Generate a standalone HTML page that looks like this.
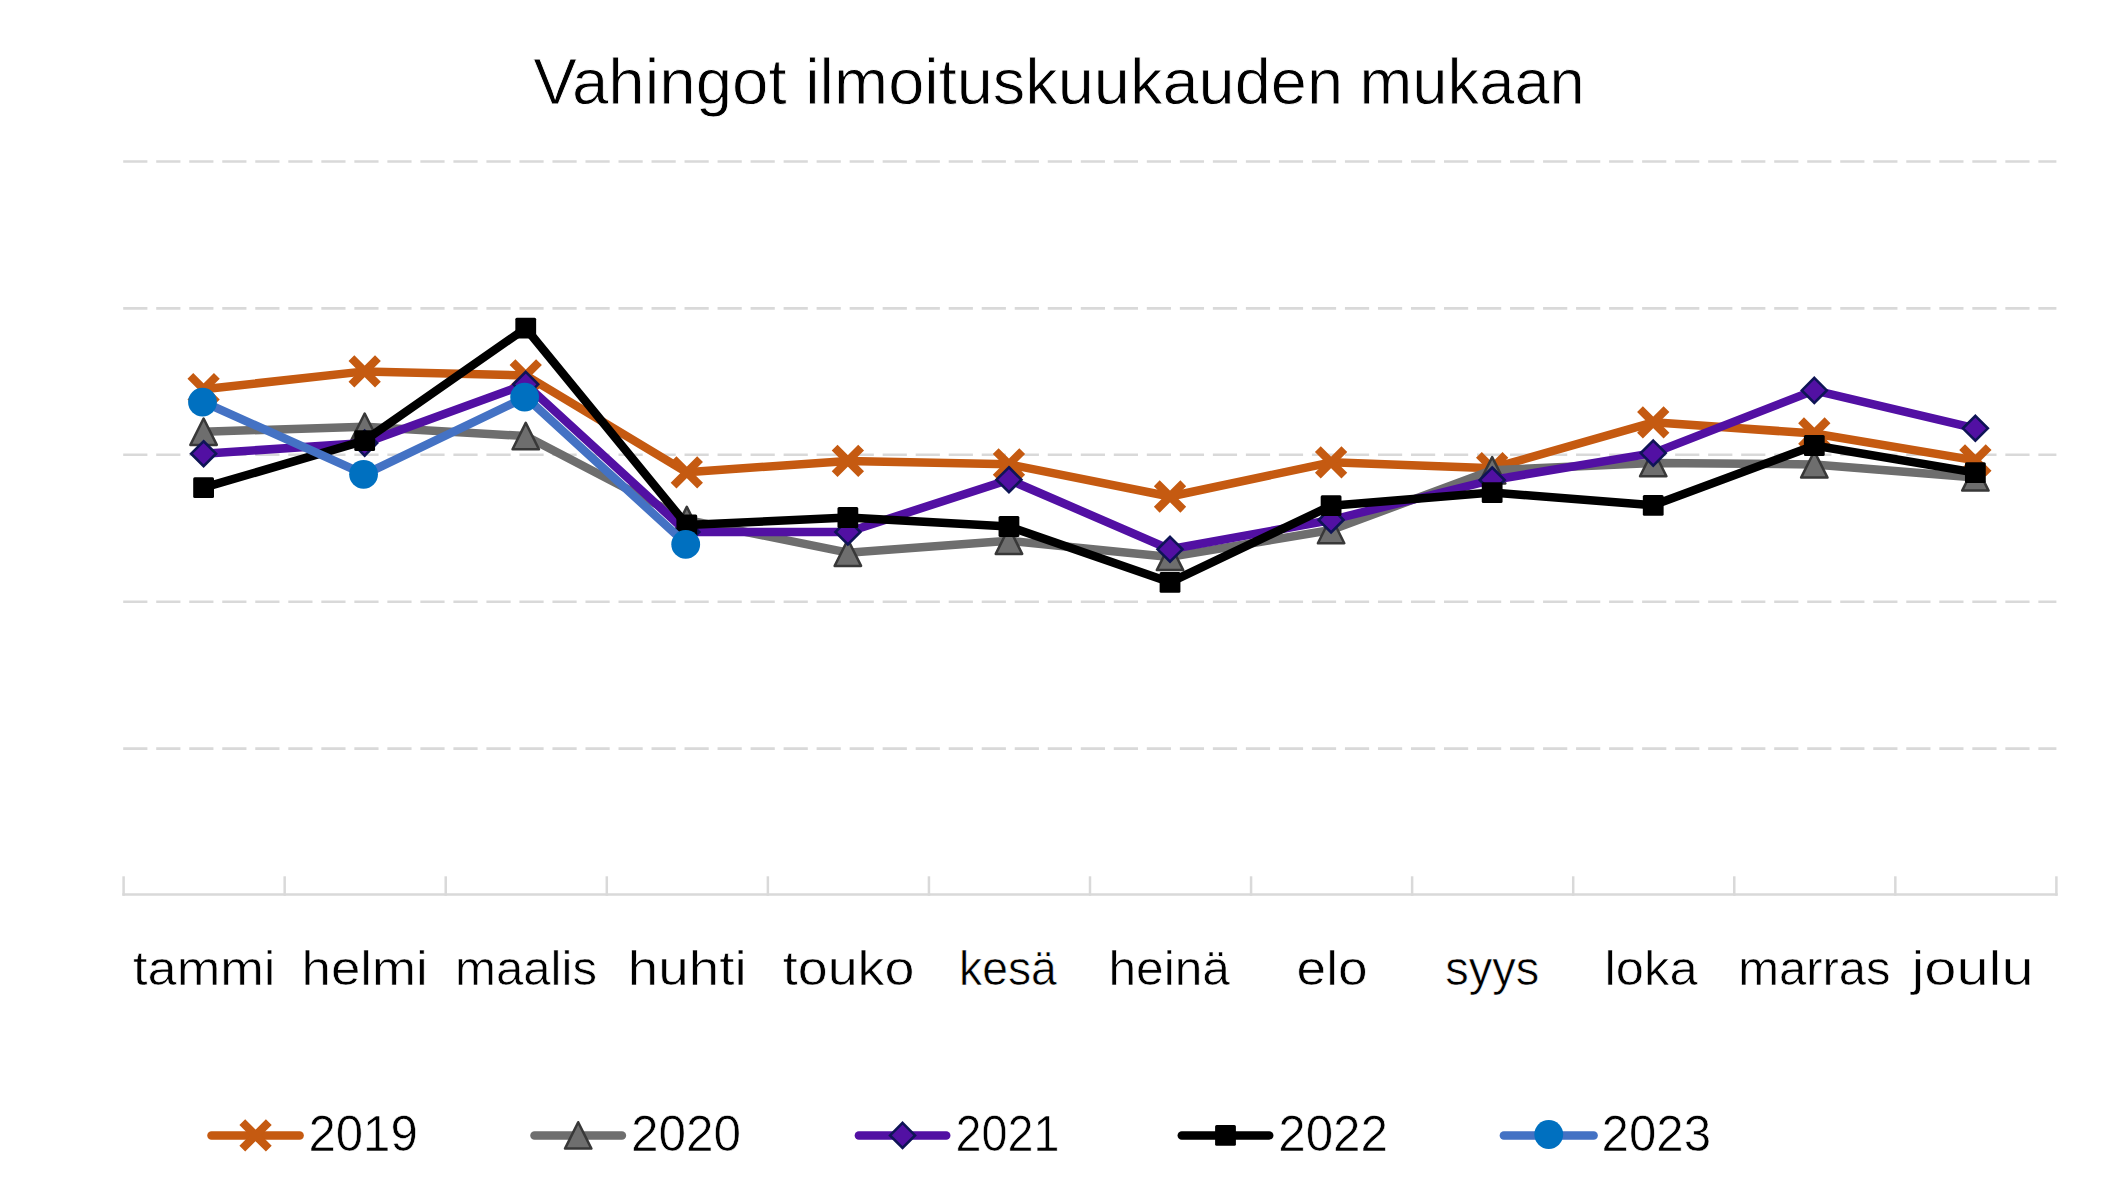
<!DOCTYPE html><html><head><meta charset="utf-8"><style>html,body{margin:0;padding:0;background:#fff;width:2118px;height:1193px;overflow:hidden}svg{display:block}text{font-family:"Liberation Sans",sans-serif;fill:#000}</style></head><body>
<svg width="2118" height="1193" viewBox="0 0 2118 1193">
<rect width="2118" height="1193" fill="#fff"/>
<text x="533.20" y="103.50" font-size="64" textLength="253.40" lengthAdjust="spacingAndGlyphs" stroke="#fff" stroke-width="0.8">Vahingot</text>
<text x="805.20" y="103.50" font-size="64" textLength="537.80" lengthAdjust="spacingAndGlyphs" stroke="#fff" stroke-width="0.8">ilmoituskuukauden</text>
<text x="1359.60" y="103.50" font-size="64" textLength="225.20" lengthAdjust="spacingAndGlyphs" stroke="#fff" stroke-width="0.8">mukaan</text>
<line x1="123.19999999999999" y1="161.5" x2="2056.4" y2="161.5" stroke="#D9D9D9" stroke-width="2.6" stroke-dasharray="24.2 8.82"/>
<line x1="123.19999999999999" y1="308.4" x2="2056.4" y2="308.4" stroke="#D9D9D9" stroke-width="2.6" stroke-dasharray="24.2 8.82"/>
<line x1="123.19999999999999" y1="454.7" x2="2056.4" y2="454.7" stroke="#D9D9D9" stroke-width="2.6" stroke-dasharray="24.2 8.82"/>
<line x1="123.19999999999999" y1="601.7" x2="2056.4" y2="601.7" stroke="#D9D9D9" stroke-width="2.6" stroke-dasharray="24.2 8.82"/>
<line x1="123.19999999999999" y1="748.6" x2="2056.4" y2="748.6" stroke="#D9D9D9" stroke-width="2.6" stroke-dasharray="24.2 8.82"/>
<line x1="122.35" y1="894.5" x2="2057.65" y2="894.5" stroke="#D9D9D9" stroke-width="2.5"/>
<line x1="123.60" y1="876.3" x2="123.60" y2="895.7" stroke="#D9D9D9" stroke-width="2.5"/>
<line x1="284.67" y1="876.3" x2="284.67" y2="895.7" stroke="#D9D9D9" stroke-width="2.5"/>
<line x1="445.73" y1="876.3" x2="445.73" y2="895.7" stroke="#D9D9D9" stroke-width="2.5"/>
<line x1="606.80" y1="876.3" x2="606.80" y2="895.7" stroke="#D9D9D9" stroke-width="2.5"/>
<line x1="767.87" y1="876.3" x2="767.87" y2="895.7" stroke="#D9D9D9" stroke-width="2.5"/>
<line x1="928.93" y1="876.3" x2="928.93" y2="895.7" stroke="#D9D9D9" stroke-width="2.5"/>
<line x1="1090.00" y1="876.3" x2="1090.00" y2="895.7" stroke="#D9D9D9" stroke-width="2.5"/>
<line x1="1251.07" y1="876.3" x2="1251.07" y2="895.7" stroke="#D9D9D9" stroke-width="2.5"/>
<line x1="1412.13" y1="876.3" x2="1412.13" y2="895.7" stroke="#D9D9D9" stroke-width="2.5"/>
<line x1="1573.20" y1="876.3" x2="1573.20" y2="895.7" stroke="#D9D9D9" stroke-width="2.5"/>
<line x1="1734.27" y1="876.3" x2="1734.27" y2="895.7" stroke="#D9D9D9" stroke-width="2.5"/>
<line x1="1895.33" y1="876.3" x2="1895.33" y2="895.7" stroke="#D9D9D9" stroke-width="2.5"/>
<line x1="2056.40" y1="876.3" x2="2056.40" y2="895.7" stroke="#D9D9D9" stroke-width="2.5"/>
<text x="133.00" y="985.30" font-size="49" textLength="142.40" lengthAdjust="spacingAndGlyphs" stroke="#fff" stroke-width="0.6">tammi</text>
<text x="301.60" y="985.30" font-size="49" textLength="126.20" lengthAdjust="spacingAndGlyphs" stroke="#fff" stroke-width="0.6">helmi</text>
<text x="455.00" y="985.30" font-size="49" textLength="142.00" lengthAdjust="spacingAndGlyphs" stroke="#fff" stroke-width="0.6">maalis</text>
<text x="627.80" y="985.30" font-size="49" textLength="118.80" lengthAdjust="spacingAndGlyphs" stroke="#fff" stroke-width="0.6">huhti</text>
<text x="782.80" y="985.30" font-size="49" textLength="131.60" lengthAdjust="spacingAndGlyphs" stroke="#fff" stroke-width="0.6">touko</text>
<text x="959.00" y="985.30" font-size="49" textLength="97.80" lengthAdjust="spacingAndGlyphs" stroke="#fff" stroke-width="0.6">kesä</text>
<text x="1108.40" y="985.30" font-size="49" textLength="121.60" lengthAdjust="spacingAndGlyphs" stroke="#fff" stroke-width="0.6">heinä</text>
<text x="1296.60" y="985.30" font-size="49" textLength="71.00" lengthAdjust="spacingAndGlyphs" stroke="#fff" stroke-width="0.6">elo</text>
<text x="1445.20" y="985.30" font-size="49" textLength="94.00" lengthAdjust="spacingAndGlyphs" stroke="#fff" stroke-width="0.6">syys</text>
<text x="1604.60" y="985.30" font-size="49" textLength="93.00" lengthAdjust="spacingAndGlyphs" stroke="#fff" stroke-width="0.6">loka</text>
<text x="1738.20" y="985.30" font-size="49" textLength="152.40" lengthAdjust="spacingAndGlyphs" stroke="#fff" stroke-width="0.6">marras</text>
<text x="1911.40" y="985.30" font-size="49" textLength="122.20" lengthAdjust="spacingAndGlyphs" stroke="#fff" stroke-width="0.6">joulu</text>
<polyline points="203.60,389.20 364.67,371.40 525.74,375.40 686.81,472.30 847.88,460.90 1008.95,464.30 1170.02,496.50 1331.09,462.30 1492.16,468.20 1653.23,422.30 1814.30,433.50 1975.37,460.40" fill="none" stroke="#C55A11" stroke-width="8.5" stroke-linejoin="round" stroke-linecap="round"/>
<path d="M190.35 375.95L216.85 402.45M190.35 402.45L216.85 375.95" stroke="#C55A11" stroke-width="8.2" fill="none"/>
<path d="M351.42 358.15L377.92 384.65M351.42 384.65L377.92 358.15" stroke="#C55A11" stroke-width="8.2" fill="none"/>
<path d="M512.49 362.15L538.99 388.65M512.49 388.65L538.99 362.15" stroke="#C55A11" stroke-width="8.2" fill="none"/>
<path d="M673.56 459.05L700.06 485.55M673.56 485.55L700.06 459.05" stroke="#C55A11" stroke-width="8.2" fill="none"/>
<path d="M834.63 447.65L861.13 474.15M834.63 474.15L861.13 447.65" stroke="#C55A11" stroke-width="8.2" fill="none"/>
<path d="M995.70 451.05L1022.20 477.55M995.70 477.55L1022.20 451.05" stroke="#C55A11" stroke-width="8.2" fill="none"/>
<path d="M1156.77 483.25L1183.27 509.75M1156.77 509.75L1183.27 483.25" stroke="#C55A11" stroke-width="8.2" fill="none"/>
<path d="M1317.84 449.05L1344.34 475.55M1317.84 475.55L1344.34 449.05" stroke="#C55A11" stroke-width="8.2" fill="none"/>
<path d="M1478.91 454.95L1505.41 481.45M1478.91 481.45L1505.41 454.95" stroke="#C55A11" stroke-width="8.2" fill="none"/>
<path d="M1639.98 409.05L1666.48 435.55M1639.98 435.55L1666.48 409.05" stroke="#C55A11" stroke-width="8.2" fill="none"/>
<path d="M1801.05 420.25L1827.55 446.75M1801.05 446.75L1827.55 420.25" stroke="#C55A11" stroke-width="8.2" fill="none"/>
<path d="M1962.12 447.15L1988.62 473.65M1962.12 473.65L1988.62 447.15" stroke="#C55A11" stroke-width="8.2" fill="none"/>
<polyline points="203.60,431.70 364.67,426.70 525.74,436.10 686.81,520.00 847.88,552.70 1008.95,540.70 1170.02,556.90 1331.09,530.00 1492.16,470.30 1653.23,463.00 1814.30,464.40 1975.37,477.40" fill="none" stroke="#6E6E6E" stroke-width="8.5" stroke-linejoin="round" stroke-linecap="round"/>
<path d="M203.60 418.50L216.80 444.90L190.40 444.90Z" fill="#6E6E6E" stroke="#383838" stroke-width="2.5" stroke-linejoin="round"/>
<path d="M364.67 413.50L377.87 439.90L351.47 439.90Z" fill="#6E6E6E" stroke="#383838" stroke-width="2.5" stroke-linejoin="round"/>
<path d="M525.74 422.90L538.94 449.30L512.54 449.30Z" fill="#6E6E6E" stroke="#383838" stroke-width="2.5" stroke-linejoin="round"/>
<path d="M686.81 506.80L700.01 533.20L673.61 533.20Z" fill="#6E6E6E" stroke="#383838" stroke-width="2.5" stroke-linejoin="round"/>
<path d="M847.88 539.50L861.08 565.90L834.68 565.90Z" fill="#6E6E6E" stroke="#383838" stroke-width="2.5" stroke-linejoin="round"/>
<path d="M1008.95 527.50L1022.15 553.90L995.75 553.90Z" fill="#6E6E6E" stroke="#383838" stroke-width="2.5" stroke-linejoin="round"/>
<path d="M1170.02 543.70L1183.22 570.10L1156.82 570.10Z" fill="#6E6E6E" stroke="#383838" stroke-width="2.5" stroke-linejoin="round"/>
<path d="M1331.09 516.80L1344.29 543.20L1317.89 543.20Z" fill="#6E6E6E" stroke="#383838" stroke-width="2.5" stroke-linejoin="round"/>
<path d="M1492.16 457.10L1505.36 483.50L1478.96 483.50Z" fill="#6E6E6E" stroke="#383838" stroke-width="2.5" stroke-linejoin="round"/>
<path d="M1653.23 449.80L1666.43 476.20L1640.03 476.20Z" fill="#6E6E6E" stroke="#383838" stroke-width="2.5" stroke-linejoin="round"/>
<path d="M1814.30 451.20L1827.50 477.60L1801.10 477.60Z" fill="#6E6E6E" stroke="#383838" stroke-width="2.5" stroke-linejoin="round"/>
<path d="M1975.37 464.20L1988.57 490.60L1962.17 490.60Z" fill="#6E6E6E" stroke="#383838" stroke-width="2.5" stroke-linejoin="round"/>
<polyline points="203.60,453.70 364.67,443.10 525.74,384.30 686.81,532.00 847.88,532.00 1008.95,479.70 1170.02,549.30 1331.09,520.00 1492.16,480.00 1653.23,453.10 1814.30,390.40 1975.37,428.30" fill="none" stroke="#5210A3" stroke-width="8.5" stroke-linejoin="round" stroke-linecap="round"/>
<path d="M203.60 441.24L216.06 453.70L203.60 466.16L191.14 453.70Z" fill="#5210A3" stroke="#0E1456" stroke-width="2.6"/>
<path d="M364.67 430.64L377.13 443.10L364.67 455.56L352.21 443.10Z" fill="#5210A3" stroke="#0E1456" stroke-width="2.6"/>
<path d="M525.74 371.84L538.20 384.30L525.74 396.76L513.28 384.30Z" fill="#5210A3" stroke="#0E1456" stroke-width="2.6"/>
<path d="M686.81 519.54L699.27 532.00L686.81 544.46L674.35 532.00Z" fill="#5210A3" stroke="#0E1456" stroke-width="2.6"/>
<path d="M847.88 519.54L860.34 532.00L847.88 544.46L835.42 532.00Z" fill="#5210A3" stroke="#0E1456" stroke-width="2.6"/>
<path d="M1008.95 467.24L1021.41 479.70L1008.95 492.16L996.49 479.70Z" fill="#5210A3" stroke="#0E1456" stroke-width="2.6"/>
<path d="M1170.02 536.84L1182.48 549.30L1170.02 561.76L1157.56 549.30Z" fill="#5210A3" stroke="#0E1456" stroke-width="2.6"/>
<path d="M1331.09 507.54L1343.55 520.00L1331.09 532.46L1318.63 520.00Z" fill="#5210A3" stroke="#0E1456" stroke-width="2.6"/>
<path d="M1492.16 467.54L1504.62 480.00L1492.16 492.46L1479.70 480.00Z" fill="#5210A3" stroke="#0E1456" stroke-width="2.6"/>
<path d="M1653.23 440.64L1665.69 453.10L1653.23 465.56L1640.77 453.10Z" fill="#5210A3" stroke="#0E1456" stroke-width="2.6"/>
<path d="M1814.30 377.94L1826.76 390.40L1814.30 402.86L1801.84 390.40Z" fill="#5210A3" stroke="#0E1456" stroke-width="2.6"/>
<path d="M1975.37 415.84L1987.83 428.30L1975.37 440.76L1962.91 428.30Z" fill="#5210A3" stroke="#0E1456" stroke-width="2.6"/>
<polyline points="203.60,487.70 364.67,440.60 525.74,328.20 686.81,525.00 847.88,517.50 1008.95,526.50 1170.02,582.30 1331.09,505.70 1492.16,492.60 1653.23,505.30 1814.30,445.50 1975.37,472.60" fill="none" stroke="#000000" stroke-width="8.5" stroke-linejoin="round" stroke-linecap="round"/>
<rect x="193.20" y="477.30" width="20.8" height="20.8" rx="1.5" fill="#000000"/>
<rect x="354.27" y="430.20" width="20.8" height="20.8" rx="1.5" fill="#000000"/>
<rect x="515.34" y="317.80" width="20.8" height="20.8" rx="1.5" fill="#000000"/>
<rect x="676.41" y="514.60" width="20.8" height="20.8" rx="1.5" fill="#000000"/>
<rect x="837.48" y="507.10" width="20.8" height="20.8" rx="1.5" fill="#000000"/>
<rect x="998.55" y="516.10" width="20.8" height="20.8" rx="1.5" fill="#000000"/>
<rect x="1159.62" y="571.90" width="20.8" height="20.8" rx="1.5" fill="#000000"/>
<rect x="1320.69" y="495.30" width="20.8" height="20.8" rx="1.5" fill="#000000"/>
<rect x="1481.76" y="482.20" width="20.8" height="20.8" rx="1.5" fill="#000000"/>
<rect x="1642.83" y="494.90" width="20.8" height="20.8" rx="1.5" fill="#000000"/>
<rect x="1803.90" y="435.10" width="20.8" height="20.8" rx="1.5" fill="#000000"/>
<rect x="1964.97" y="462.20" width="20.8" height="20.8" rx="1.5" fill="#000000"/>
<polyline points="203.60,402.10 364.67,474.30 525.74,397.10 686.81,544.40" fill="none" stroke="#4472C4" stroke-width="8.5" stroke-linejoin="round" stroke-linecap="round"/>
<circle cx="202.50" cy="402.10" r="14.4" fill="#0070C0"/>
<circle cx="363.57" cy="474.30" r="14.4" fill="#0070C0"/>
<circle cx="524.64" cy="397.10" r="14.4" fill="#0070C0"/>
<circle cx="685.71" cy="544.40" r="14.4" fill="#0070C0"/>
<line x1="211.5" y1="1135.4" x2="299.6" y2="1135.4" stroke="#C55A11" stroke-width="8.5" stroke-linecap="round"/>
<path d="M242.30 1122.15L268.80 1148.65M242.30 1148.65L268.80 1122.15" stroke="#C55A11" stroke-width="8.2" fill="none"/>
<text x="308.40" y="1151.40" font-size="50" textLength="109.40" lengthAdjust="spacingAndGlyphs" stroke="#fff" stroke-width="0.6">2019</text>
<line x1="534.5" y1="1135.4" x2="621.9" y2="1135.4" stroke="#6E6E6E" stroke-width="8.5" stroke-linecap="round"/>
<path d="M578.20 1122.20L591.40 1148.60L565.00 1148.60Z" fill="#6E6E6E" stroke="#383838" stroke-width="2.5" stroke-linejoin="round"/>
<text x="631.00" y="1151.40" font-size="50" textLength="110.00" lengthAdjust="spacingAndGlyphs" stroke="#fff" stroke-width="0.6">2020</text>
<line x1="858.9" y1="1135.4" x2="946.2" y2="1135.4" stroke="#5210A3" stroke-width="8.5" stroke-linecap="round"/>
<path d="M902.55 1122.94L915.01 1135.40L902.55 1147.86L890.09 1135.40Z" fill="#5210A3" stroke="#0E1456" stroke-width="2.6"/>
<text x="955.60" y="1151.40" font-size="50" textLength="103.80" lengthAdjust="spacingAndGlyphs" stroke="#fff" stroke-width="0.6">2021</text>
<line x1="1181.8" y1="1135.4" x2="1269.2" y2="1135.4" stroke="#000000" stroke-width="8.5" stroke-linecap="round"/>
<rect x="1215.10" y="1125.00" width="20.8" height="20.8" rx="1.5" fill="#000000"/>
<text x="1278.20" y="1151.40" font-size="50" textLength="109.80" lengthAdjust="spacingAndGlyphs" stroke="#fff" stroke-width="0.6">2022</text>
<line x1="1503.9" y1="1135.4" x2="1593.6" y2="1135.4" stroke="#4472C4" stroke-width="8.5" stroke-linecap="round"/>
<circle cx="1548.75" cy="1134.50" r="14.4" fill="#0070C0"/>
<text x="1601.60" y="1151.40" font-size="50" textLength="109.40" lengthAdjust="spacingAndGlyphs" stroke="#fff" stroke-width="0.6">2023</text>
</svg></body></html>
